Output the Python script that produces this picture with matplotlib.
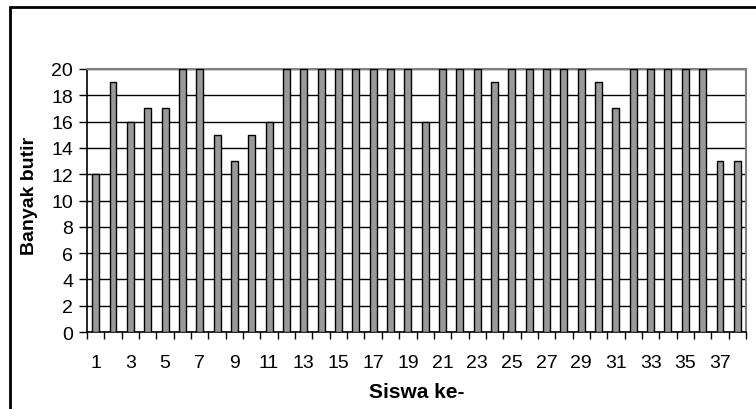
import numpy as np
import matplotlib.pyplot as plt
from matplotlib.patches import Rectangle

plt.rcParams['font.family'] = ['Liberation Sans', 'DejaVu Sans']

# jumlah butir yang dijawab tiap siswa
siswa = np.arange(1, 39)
butir = [12, 19, 16, 17, 17, 20, 20, 15, 13, 15, 16, 20, 20, 20, 20, 20, 20, 20, 20,
         16, 20, 20, 20, 19, 20, 20, 20, 20, 20, 19, 17, 20, 20, 20, 20, 20, 13, 13]
label_x = [str(i) for i in range(1, 39, 2)]

fig = plt.figure(figsize=(7.56, 4.10), dpi=100)
ax = fig.add_axes([87/756, 1-333/410, (746-87)/756, (333-70)/410])

ax.set_axisbelow(True)
ax.yaxis.grid(True, color='black', linewidth=1.0)
ax.bar(siswa, butir, width=0.4, color='#999999', edgecolor='black', linewidth=1.0, zorder=3)

ax.set_xlim(0.5, 38.5)
ax.set_ylim(0, 20)
ax.set_yticks(np.arange(0, 21, 2))
ax.set_xticks(np.arange(1, 39, 2))
ax.set_xticklabels(label_x)
ax.set_xticks(np.arange(0.5, 39, 1), minor=True)
ax.tick_params(axis='x', which='major', length=0, pad=16, labelsize=14)
ax.tick_params(axis='x', which='minor', length=5, width=1, direction='out', color='black')
ax.tick_params(axis='y', length=6, width=1, direction='out', labelsize=14, pad=4)

for s in ['left', 'bottom']:
    ax.spines[s].set_color('black')
    ax.spines[s].set_linewidth(1.2)
for s in ['top', 'right']:
    ax.spines[s].set_color('#808080')
    ax.spines[s].set_linewidth(1.5)

ax.set_xlabel('Siswa ke-', fontsize=15, fontweight='bold', labelpad=8)
ax.set_ylabel('Banyak butir', fontsize=14, fontweight='bold')
ax.yaxis.set_label_coords(-0.075, 0.52)

# bingkai area grafik
fig.patches.append(Rectangle((10/756, -0.1), 1.0, 1.1 - 8/410, transform=fig.transFigure,
                             fill=False, edgecolor='black', linewidth=2))

fig.savefig('out.png', dpi=100)
